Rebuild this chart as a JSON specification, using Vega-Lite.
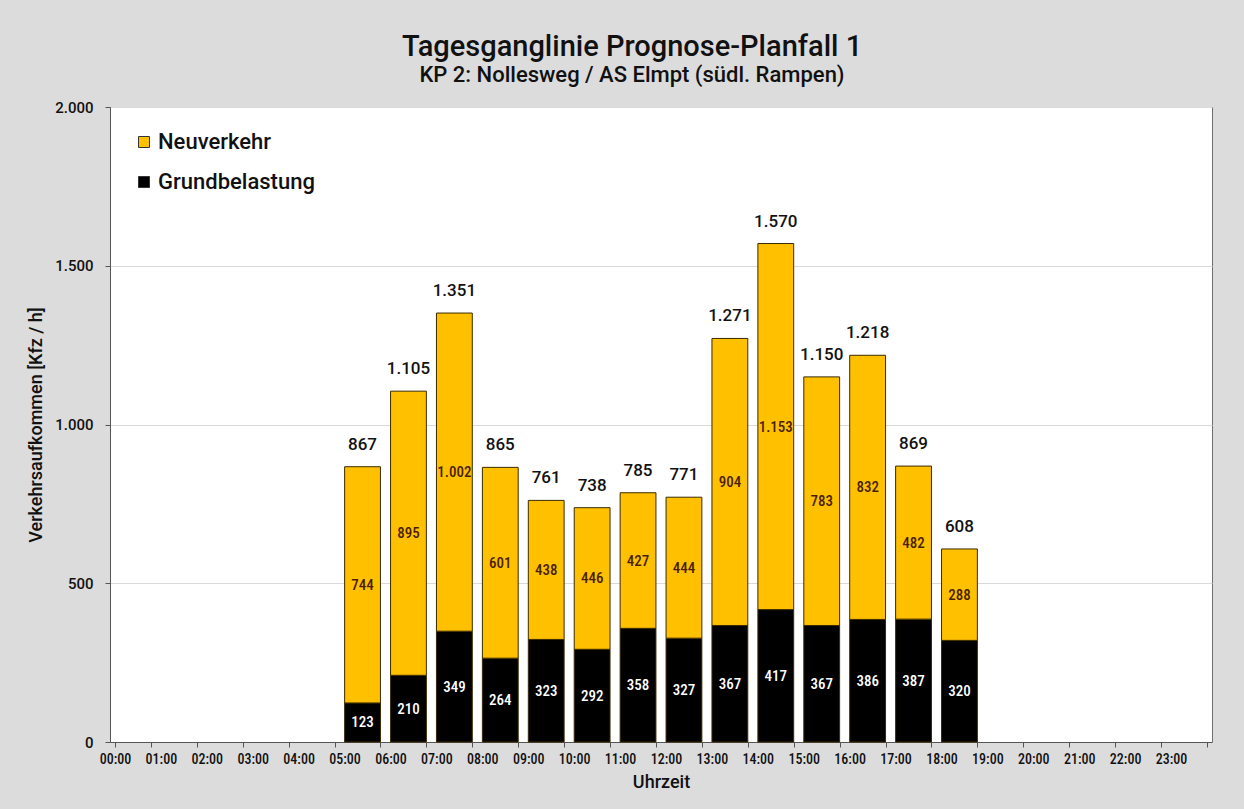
{
  "$schema": "https://vega.github.io/schema/vega-lite/v6.json",
  "width": 1102,
  "height": 635,
  "autosize": {"type": "none"},
  "padding": {"left": 110, "top": 107, "right": 32, "bottom": 67},
  "background": "#dcdcdc",
  "title": {
    "text": "Tagesganglinie Prognose-Planfall 1",
    "subtitle": "KP 2: Nollesweg / AS Elmpt (südl. Rampen)",
    "font": "Roboto",
    "subtitleFont": "Roboto",
    "fontSize": 29,
    "subtitleFontSize": 22,
    "fontWeight": 500,
    "subtitleFontWeight": 500,
    "color": "#111111",
    "subtitleColor": "#111111",
    "anchor": "middle",
    "dx": -29,
    "offset": 14,
    "subtitlePadding": 3
  },
  "config": {
    "font": "Roboto",
    "locale": {"number": {"decimal": ",", "thousands": ".", "grouping": [3], "currency": ["", " €"]}},
    "view": {"fill": "white", "stroke": "#6f6f6f", "strokeWidth": 1}
  },
  "data": {
    "values": [
      {"hour": "05:00", "series": "Grundbelastung", "value": 123},
      {"hour": "05:00", "series": "Neuverkehr", "value": 744},
      {"hour": "06:00", "series": "Grundbelastung", "value": 210},
      {"hour": "06:00", "series": "Neuverkehr", "value": 895},
      {"hour": "07:00", "series": "Grundbelastung", "value": 349},
      {"hour": "07:00", "series": "Neuverkehr", "value": 1002},
      {"hour": "08:00", "series": "Grundbelastung", "value": 264},
      {"hour": "08:00", "series": "Neuverkehr", "value": 601},
      {"hour": "09:00", "series": "Grundbelastung", "value": 323},
      {"hour": "09:00", "series": "Neuverkehr", "value": 438},
      {"hour": "10:00", "series": "Grundbelastung", "value": 292},
      {"hour": "10:00", "series": "Neuverkehr", "value": 446},
      {"hour": "11:00", "series": "Grundbelastung", "value": 358},
      {"hour": "11:00", "series": "Neuverkehr", "value": 427},
      {"hour": "12:00", "series": "Grundbelastung", "value": 327},
      {"hour": "12:00", "series": "Neuverkehr", "value": 444},
      {"hour": "13:00", "series": "Grundbelastung", "value": 367},
      {"hour": "13:00", "series": "Neuverkehr", "value": 904},
      {"hour": "14:00", "series": "Grundbelastung", "value": 417},
      {"hour": "14:00", "series": "Neuverkehr", "value": 1153},
      {"hour": "15:00", "series": "Grundbelastung", "value": 367},
      {"hour": "15:00", "series": "Neuverkehr", "value": 783},
      {"hour": "16:00", "series": "Grundbelastung", "value": 386},
      {"hour": "16:00", "series": "Neuverkehr", "value": 832},
      {"hour": "17:00", "series": "Grundbelastung", "value": 387},
      {"hour": "17:00", "series": "Neuverkehr", "value": 482},
      {"hour": "18:00", "series": "Grundbelastung", "value": 320},
      {"hour": "18:00", "series": "Neuverkehr", "value": 288}
    ]
  },
  "encoding": {
    "x": {
      "field": "hour",
      "type": "ordinal",
      "title": "Uhrzeit",
      "scale": {
        "domain": ["00:00","01:00","02:00","03:00","04:00","05:00","06:00","07:00","08:00","09:00","10:00","11:00","12:00","13:00","14:00","15:00","16:00","17:00","18:00","19:00","20:00","21:00","22:00","23:00"],
        "paddingInner": 0.22,
        "paddingOuter": 0.11
      },
      "axis": {
        "labelAngle": 0,
        "labelFont": "Roboto Condensed",
        "labelFontSize": 14,
        "labelFontWeight": 500,
        "labelColor": "#111111",
        "labelOffset": -18,
        "labelPadding": 5,
        "labelOverlap": false,
        "tickBand": "extent",
        "tickSize": 5,
        "tickColor": "#555555",
        "domainColor": "#555555",
        "titleFontSize": 18,
        "titleFontWeight": 500,
        "titleColor": "#111111",
        "titlePadding": 7
      }
    }
  },
  "layer": [
    {
      "mark": {"type": "bar", "stroke": "#3a2a00", "strokeWidth": 1},
      "encoding": {
        "y": {
          "field": "value",
          "type": "quantitative",
          "stack": "zero",
          "scale": {"domain": [0, 2000]},
          "axis": {
            "title": "Verkehrsaufkommen [Kfz / h]",
            "values": [0, 500, 1000, 1500, 2000],
            "format": ",d",
            "labelFontSize": 15,
            "labelFontWeight": 500,
            "labelColor": "#111111",
            "labelPadding": 12,
            "tickSize": 5,
            "tickColor": "#555555",
            "domainColor": "#555555",
            "gridColor": "#d9d9d9",
            "titleFontSize": 18,
            "titleFontWeight": 500,
            "titleColor": "#111111",
            "titlePadding": 9
          }
        },
        "color": {
          "field": "series",
          "type": "nominal",
          "scale": {"domain": ["Neuverkehr", "Grundbelastung"], "range": ["#FFC000", "#000000"]},
          "legend": {
            "orient": "none",
            "legendX": 23,
            "legendY": 24,
            "title": null,
            "labelFontSize": 22,
            "labelFontWeight": 500,
            "labelColor": "#111111",
            "symbolType": "square",
            "symbolSize": 121,
            "symbolStrokeColor": "#333333",
            "symbolStrokeWidth": 1,
            "rowPadding": 18,
            "labelOffset": 3
          }
        },
        "order": {"field": "series", "sort": "ascending"}
      }
    },
    {
      "transform": [
        {"stack": "value", "groupby": ["hour"], "sort": [{"field": "series", "order": "ascending"}], "as": ["y0", "y1"]},
        {"calculate": "(datum.y0 + datum.y1) / 2", "as": "mid"}
      ],
      "mark": {"type": "text", "font": "Roboto Condensed", "fontSize": 15, "fontWeight": 500},
      "encoding": {
        "y": {"field": "mid", "type": "quantitative"},
        "text": {"field": "value", "type": "quantitative", "format": ",d"},
        "color": {
          "condition": {"test": "datum.series === 'Neuverkehr'", "value": "#4a1f00"},
          "value": "#ffffff"
        }
      }
    },
    {
      "mark": {"type": "text", "fontSize": 17, "fontWeight": 500, "dy": -22, "color": "#111111"},
      "encoding": {
        "y": {"aggregate": "sum", "field": "value", "type": "quantitative"},
        "text": {"aggregate": "sum", "field": "value", "type": "quantitative", "format": ",d"}
      }
    }
  ]
}
